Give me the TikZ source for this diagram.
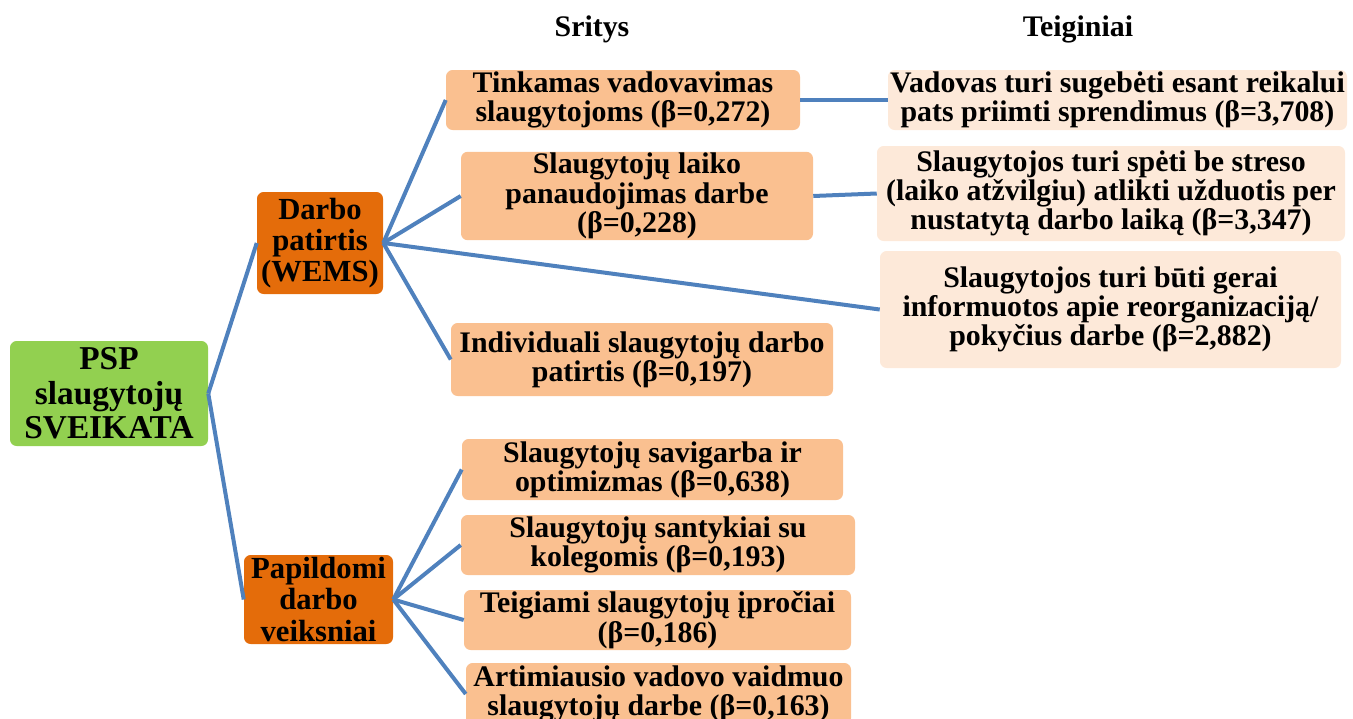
\documentclass[tikz,border=0pt]{standalone}
\usepackage{fontspec}
\setmainfont{Liberation Serif}
\usepackage{tikz}
\definecolor{rootgreen}{HTML}{92D050}
\definecolor{darkorange}{HTML}{E46C0A}
\definecolor{lightorange}{HTML}{FAC090}
\definecolor{paleorange}{HTML}{FDE9D9}
\definecolor{linkblue}{HTML}{4F81BD}
\newcommand{\boxfont}{\fontsize{22.4}{22}\selectfont\bfseries}
\newcommand{\rootfont}{\fontsize{25}{26}\selectfont\bfseries}
\tikzset{
  box/.style={rounded corners=5pt, align=center, inner sep=1pt, font=\boxfont, text=black},
  rootbox/.style={box, fill=rootgreen, font=\rootfont},
  groupbox/.style={box, fill=darkorange, font=\fontsize{23}{23.5}\selectfont\bfseries},
  areabox/.style={box, fill=lightorange},
  claimbox/.style={box, fill=paleorange},
  link/.style={draw=linkblue, line width=3pt}
}

\begin{document}
\begin{tikzpicture}[x=0.75pt, y=-0.75pt]

  % page
  \clip (0,0) rectangle (1353,718);

  % headers
  \node[font=\boxfont] (hsritys) at (592,29) {Sritys};
  \node[font=\boxfont] (hteig) at (1078,29) {Teiginiai};

  % root and groups
  \node[rootbox, minimum width=148.5pt, minimum height=78.75pt] (root) at (109,393.5)
    {PSP\\slaugytojų\\SVEIKATA};
  \node[groupbox, minimum width=94.5pt, minimum height=76.5pt] (darbo) at (320,243)
    {Darbo\\patirtis\\(WEMS)};
  \node[groupbox, minimum width=111.75pt, minimum height=66.75pt] (papild) at (318.5,599.5)
    {Papildomi\\darbo\\veiksniai};

  % sritys (WEMS)
  \node[areabox, minimum width=265.5pt, minimum height=45pt] (tinkamas) at (623,100)
    {Tinkamas vadovavimas\\slaugytojoms (β=0,272)};
  \node[areabox, minimum width=264pt, minimum height=66pt] (laiko) at (637,196)
    {Slaugytojų laiko\\panaudojimas darbe\\(β=0,228)};
  \node[areabox, minimum width=286.5pt, minimum height=54.75pt] (individ) at (642,359.5)
    {Individuali slaugytojų darbo\\patirtis (β=0,197)};

  % sritys (papildomi)
  \node[areabox, minimum width=285.75pt, minimum height=45.75pt] (savigarba) at (652.5,469.5)
    {Slaugytojų savigarba ir\\optimizmas (β=0,638)};
  \node[areabox, minimum width=295.5pt, minimum height=45pt] (santykiai) at (658,545)
    {Slaugytojų santykiai su\\kolegomis (β=0,193)};
  \node[areabox, minimum width=290.25pt, minimum height=45pt] (iprociai) at (657.5,620)
    {Teigiami slaugytojų įpročiai\\(β=0,186)};
  \node[areabox, minimum width=288.75pt, minimum height=46.5pt] (vadovo) at (658.5,694)
    {Artimiausio vadovo vaidmuo\\slaugytojų darbe (β=0,163)};

  % teiginiai
  \node[claimbox, minimum width=344.25pt, minimum height=45pt] (sprendimai) at (1117.5,100)
    {Vadovas turi sugebėti esant reikalui\\pats priimti sprendimus (β=3,708)};
  \node[claimbox, minimum width=351pt, minimum height=71.25pt] (stresas) at (1111,193.5)
    {Slaugytojos turi spėti be streso\\(laiko atžvilgiu) atlikti užduotis per\\nustatytą darbo laiką (β=3,347)};
  \node[claimbox, minimum width=345.75pt, minimum height=87.75pt] (informuotos) at (1110.5,309.5)
    {Slaugytojos turi būti gerai\\informuotos apie reorganizaciją/\\pokyčius darbe (β=2,882)};

  % connectors
  \draw[link] (root.east) -- (darbo.west);
  \draw[link] (root.east) -- (papild.west);
  \foreach \n in {tinkamas,laiko,individ,informuotos}{
    \draw[link] (darbo.east) -- (\n.west);
  }
  \foreach \n in {savigarba,santykiai,iprociai,vadovo}{
    \draw[link] (papild.east) -- (\n.west);
  }
  \draw[link] (tinkamas.east) -- (sprendimai.west);
  \draw[link] (laiko.east) -- (stresas.west);

\end{tikzpicture}
\end{document}
